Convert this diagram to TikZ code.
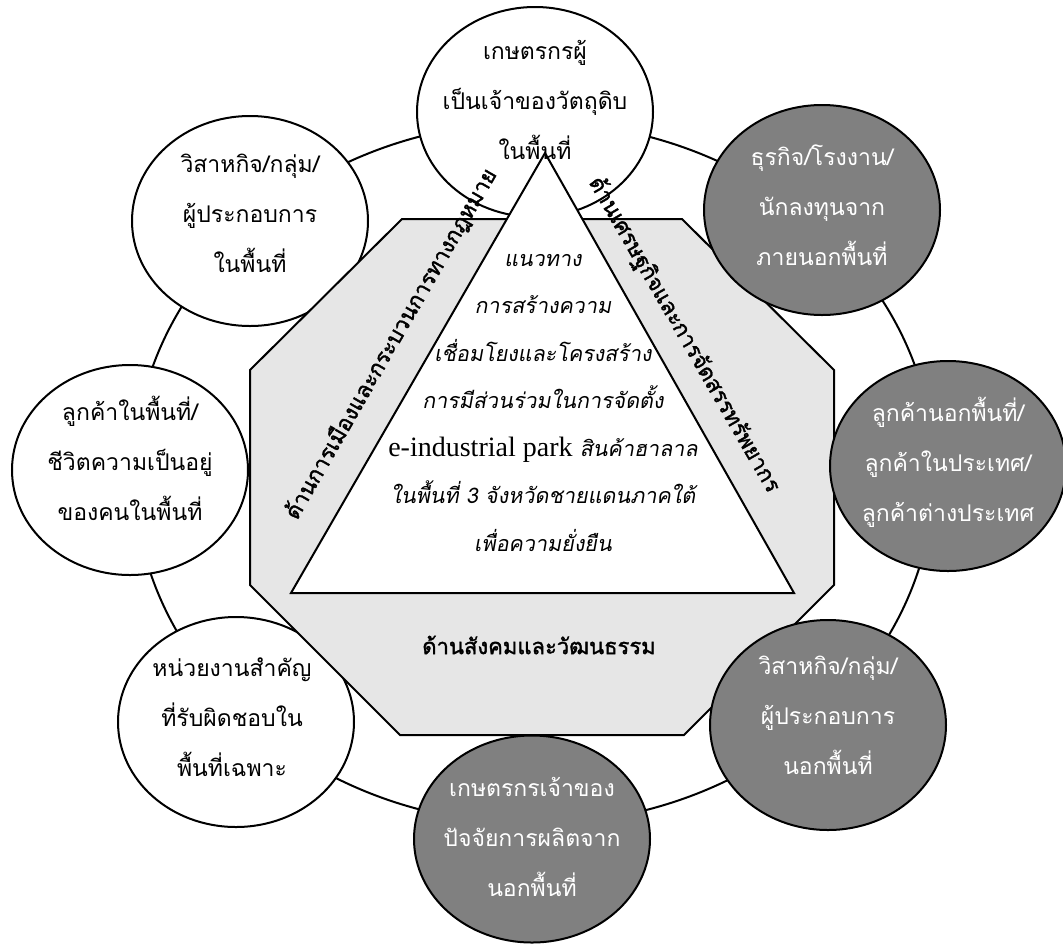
\documentclass[tikz,border=0pt]{standalone}
\usepackage{fontspec}
\setmainfont{Liberation Serif}
\newfontfamily\thai[Script=Thai]{Loma}
\newfontfamily\thaiit[Script=Thai,FakeSlant=0.18]{Loma}
\newfontfamily\thaibf[Script=Thai,FakeBold=1.6]{Loma}
\usetikzlibrary{shapes.geometric}
\definecolor{octfill}{HTML}{E6E6E6}
\definecolor{darkfill}{HTML}{808080}
\begin{document}
\begin{tikzpicture}[x=1pt,y=-1pt,line width=2pt,
  wnode/.style={ellipse,draw,fill=white,minimum width=236pt,minimum height=210pt,inner sep=0pt},
  dnode/.style={ellipse,draw,fill=darkfill,minimum width=236pt,minimum height=210pt,inner sep=0pt},
  etext/.style={align=center,inner sep=0pt,font=\thai\fontsize{23}{50}\selectfont},
  wtext/.style={etext,text=white},
  sidelabel/.style={inner sep=0pt,font=\thaibf\fontsize{22}{26}\selectfont}]
\useasboundingbox (0,0) rectangle (1063,946);
% ring
\draw (534,473) ellipse [x radius=400, y radius=351];
% white ellipses
\node[wnode] (e1) at (535,112) {};
\node[wnode] (e6) at (236,722) {};
\node[wnode] (e7) at (130,470) {};
\node[wnode] (e8) at (250,221) {};
% octagon
\coordinate (o1) at (402,219);
\coordinate (o2) at (682,219);
\coordinate (o3) at (834,370);
\coordinate (o4) at (834,585);
\coordinate (o5) at (684,735);
\coordinate (o6) at (400,735);
\coordinate (o7) at (250,585);
\coordinate (o8) at (250,370);
\draw[fill=octfill,line join=miter] (o1)--(o2)--(o3)--(o4)--(o5)--(o6)--(o7)--(o8)--cycle;
% triangle
\coordinate (ta) at (545,153);
\coordinate (tl) at (291,593);
\coordinate (tr) at (794,593);
\draw[fill=white,line join=miter] (ta)--(tr)--(tl)--cycle;
% dark ellipses
\node[dnode] (e2) at (822,210) {};
\node[dnode] (e3) at (948,466) {};
\node[dnode] (e4) at (828,725) {};
\node[dnode,minimum height=207pt] (e5) at (532,839) {};
% texts
\node[etext] (t1) at (535,100) {เกษตรกรผู้\\เป็นเจ้าของวัตถุดิบ\\ในพื้นที่};
\node[wtext] (t2) at (822,205) {ธุรกิจ/โรงงาน/\\นักลงทุนจาก\\ภายนอกพื้นที่};
\node[wtext] (t3) at (948,462) {ลูกค้านอกพื้นที่/\\ลูกค้าในประเทศ/\\ลูกค้าต่างประเทศ};
\node[wtext] (t4) at (828,715) {วิสาหกิจ/กลุ่ม/\\ผู้ประกอบการ\\นอกพื้นที่};
\node[wtext] (t5) at (532,837) {เกษตรกรเจ้าของ\\ปัจจัยการผลิตจาก\\นอกพื้นที่};
\node[etext] (t6) at (232,717) {หน่วยงานสำคัญ\\ที่รับผิดชอบใน\\พื้นที่เฉพาะ};
\node[etext] (t7) at (130,458) {ลูกค้าในพื้นที่/\\ชีวิตความเป็นอยู่\\ของคนในพื้นที่};
\node[etext] (t8) at (250,213) {วิสาหกิจ/กลุ่ม/\\ผู้ประกอบการ\\ในพื้นที่};
% triangle text
\node[align=center,inner sep=0pt,font=\thaiit\fontsize{21.5}{47.5}\selectfont] (tc) at (543,403)
 {แนวทาง\\การสร้างความ\\เชื่อมโยงและโครงสร้าง\\การมีส่วนร่วมในการจัดตั้ง\\{\rmfamily\fontsize{28}{47.5}\selectfont e-industrial park} สินค้าฮาลาล\\ในพื้นที่ 3 จังหวัดชายแดนภาคใต้\\เพื่อความยั่งยืน};
% side labels
\node[sidelabel,rotate=60] (sl) at (391,344) {ด้านการเมืองและกระบวนการทางกฎหมาย};
\node[sidelabel,rotate=-60] (sr) at (684,335) {ด้านเศรษฐกิจและการจัดสรรทรัพยากร};
\node[sidelabel] (sb) at (539,645) {ด้านสังคมและวัฒนธรรม};
\end{tikzpicture}
\end{document}
